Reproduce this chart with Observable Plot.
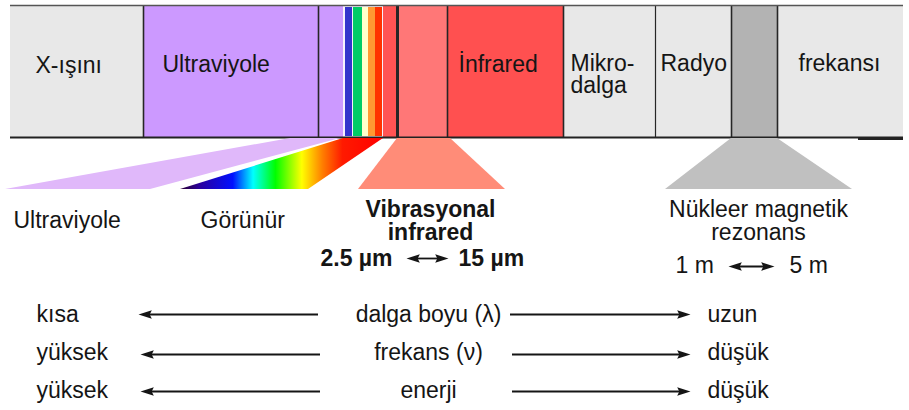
<!DOCTYPE html>
<html><head><meta charset="utf-8">
<script src="https://cdn.jsdelivr.net/npm/d3@7"></script>
<script src="https://cdn.jsdelivr.net/npm/@observablehq/plot@0.6"></script>
<style>html,body{margin:0;padding:0;background:#fff;} svg{display:block}</style>
</head><body><div id="chart"></div>
<script>
// ---- Spectrum bands (diagram units along the spectrum axis) ----
const bandNames  = ["X-ışını","Ultraviyole","UV-yakın","Görünür","IR-yakın","IR-vibrasyonal","İnfrared","Mikrodalga","Radyo","NMR","Radyo frekansı"];
const bandStart  = [10, 143, 318, 343, 383, 397, 447, 563, 655, 731, 777];
const bandEnd    = [143, 318, 343, 383, 397, 447, 563, 655, 731, 777, 903];
const bandColors = ["#e8e8e8","#cc99ff","#cc99ff","#f6f0fc","#ff5454","#ff7777","#ff5050","#e8e8e8","#e8e8e8","#b3b3b3","#e8e8e8"];

// visible colour strips
const visNames  = ["mavi","yeşil","sarı","turuncu","kırmızı"];
const visStart  = [345, 353, 362, 368, 375];
const visEnd    = [352, 362, 368, 375, 382];
const visColors = ["#3333cc","#00cc66","#ffffcc","#ff9933","#ff3300"];

// band dividers
const dividerX     = [143, 318, 397, 447, 563, 655, 731, 777];
const dividerWidth = [1.6, 1.6, 3, 1.6, 1.6, 1.2, 1.6, 1.6];

// band labels (one entry per line)
const bandLabelText = ["X-ışını","Ultraviyole","İnfrared","Mikro-","dalga","Radyo","frekansı"];
const bandLabelX    = [35, 162, 458, 570, 570, 660, 798];
const bandLabelBase = [73, 72, 72, 71, 93, 71, 71];

// fans (band region -> detail region): top at band bottom, base below
const fanNames    = ["Ultraviyole","Görünür","Vibrasyonal infrared","NMR"];
const fanTopX1    = [290, 343, 397, 731];
const fanTopX2    = [340, 383, 450, 777];
const fanBaseX1   = [5, 180, 358, 665];
const fanBaseX2   = [150, 308, 505, 852];
const fanFill     = ["#e0b8fa","url(#spectrumGrad)","#ff8c78","#c0c0c0"];

// visible gradient stops
const gradOffset = [0, 0.1, 0.26, 0.36, 0.47, 0.6, 0.7, 0.8, 1];
const gradColor  = ["#2a0030","#2a00a0","#0010ff","#00ffff","#00ff00","#ffff00","#ff8000","#ff1a00","#ff0000"];

// detail labels (one entry per line)
const detailText   = ["Ultraviyole","Görünür","Vibrasyonal","infrared","Nükleer magnetik","rezonans","2.5 µm","15 µm","1 m","5 m"];
const detailX      = [13, 200, 430, 430, 758, 758, 320, 458, 675, 789];
const detailBase   = [228, 228, 217, 240, 217, 240, 266, 266, 273, 273];
const detailAnchor = ["start","start","middle","middle","middle","middle","start","start","start","start"];
const detailWeight = ["normal","normal","bold","bold","normal","normal","bold","bold","normal","normal"];

// range arrows (double headed)
const rangeX1 = [406, 728];
const rangeX2 = [448, 774];
const rangeY  = [258, 266];

// trend rows
const rowLeft   = ["kısa","yüksek","yüksek"];
const rowMiddle = ["dalga boyu (λ)","frekans (ν)","enerji"];
const rowRight  = ["uzun","düşük","düşük"];
const rowBase   = [322, 360, 398];
const rowArrowY = [314, 354, 391];
const rowLeftTip = [138, 140, 140];
const rowLeftTail = [318, 320, 320];
const rowRightTail = [510, 512, 512];
const rowRightTip = [690, 690, 690];

// ---- build tables ----
const bands = bandNames.map((n,i) => ({name:n, x1:bandStart[i], x2:bandEnd[i], color:bandColors[i]}));
const strips = visNames.map((n,i) => ({name:n, x1:visStart[i], x2:visEnd[i], color:visColors[i]}));
const dividers = dividerX.map((x,i) => ({x, w:dividerWidth[i]}));
const FS = 23, CAP = 16.4;
const bandLabels = bandLabelText.map((t,i) => ({text:t, x:bandLabelX[i], y:bandLabelBase[i]-CAP}));
const fans = fanNames.map((n,i) => [
  {fan:n, y:138, x1:fanTopX1[i], x2:fanTopX2[i], fill:fanFill[i]},
  {fan:n, y:189, x1:fanBaseX1[i], x2:fanBaseX2[i], fill:fanFill[i]}
]);
const details = detailText.map((t,i) => ({text:t, x:detailX[i], y:detailBase[i]-CAP, anchor:detailAnchor[i], weight:detailWeight[i]}));
const rows = rowLeft.map((l,i) => ({left:l, mid:rowMiddle[i], right:rowRight[i], y:rowBase[i]-CAP, ay:rowArrowY[i],
  lt:rowLeftTip[i], ltail:rowLeftTail[i], rtail:rowRightTail[i], rt:rowRightTip[i]}));
const ranges = rangeX1.map((x1,i) => ({x1, x2:rangeX2[i], y:rangeY[i]}));
const heads = [
  ...rows.flatMap(r => [{x:r.lt, y:r.ay, rot:180}, {x:r.rt, y:r.ay, rot:0}]),
  ...ranges.flatMap(r => [{x:r.x1, y:r.y, rot:180}, {x:r.x2, y:r.y, rot:0}])
];

const headSymbol = {draw(ctx, size){ const s = Math.sqrt(size/Math.PI); ctx.moveTo(0,0); ctx.lineTo(-3.1*s,-s); ctx.lineTo(-2.6*s,0); ctx.lineTo(-3.1*s,s); ctx.closePath(); }};
const FONT = "Liberation Sans, Arial, Helvetica, sans-serif";
const INK = "#151515";

const fanMarks = fans.map(f => Plot.areaX(f, {y:"y", x1:"x1", x2:"x2", fill:f[0].fill, curve:"linear"}));
const detailMarks = [];
for (const anchor of ["start","middle"]) for (const weight of ["normal","bold"]) {
  const sub = details.filter(d => d.anchor === anchor && d.weight === weight);
  if (sub.length) detailMarks.push(Plot.text(sub, {x:"x", y:"y", text:"text", textAnchor:anchor, lineAnchor:"top",
    fontSize:FS, fontWeight:weight, fill:INK}));
}

const svg = Plot.plot({
  width: 909, height: 410,
  margin: 0,
  x: {domain:[0,909], range:[0,909], axis:null},
  y: {domain:[0,410], range:[0,410], axis:null},
  color: {type:"identity"},
  style: {background:"#fff", fontFamily: FONT},
  marks: [
    Plot.rect(bands, {x1:"x1", x2:"x2", y1:5, y2:137, fill:"color"}),
    Plot.rect(strips, {x1:"x1", x2:"x2", y1:7, y2:136, fill:"color"}),
    Plot.ruleX(dividers, {x:"x", y1:5, y2:137, stroke:"#262626", strokeWidth:"w"}),
    Plot.ruleY([5], {x1:10, x2:903, stroke:"#555", strokeWidth:1.5}),
    Plot.ruleY([137], {x1:10, x2:903, stroke:"#222", strokeWidth:2}),
    Plot.ruleY([138.5], {x1:858, x2:903, stroke:"#222", strokeWidth:2}),
    Plot.text(bandLabels, {x:"x", y:"y", text:"text", textAnchor:"start", lineAnchor:"top", fontSize:FS, fill:INK}),
    ...fanMarks,
    ...detailMarks,
    Plot.ruleY(ranges, {y:"y", x1:d=>d.x1+6, x2:d=>d.x2-6, stroke:INK, strokeWidth:1.8}),
    Plot.ruleY(rows, {y:"ay", x1:d=>d.lt+6, x2:"ltail", stroke:INK, strokeWidth:1.8}),
    Plot.ruleY(rows, {y:"ay", x1:"rtail", x2:d=>d.rt-6, stroke:INK, strokeWidth:1.8}),
    Plot.dot(heads, {x:"x", y:"y", rotate:"rot", r:4.3, symbol:headSymbol, fill:INK, stroke:"none"}),
    Plot.text(rows, {x:36, y:"y", text:"left", textAnchor:"start", lineAnchor:"top", fontSize:FS, fill:INK}),
    Plot.text(rows, {x:428, y:"y", text:"mid", textAnchor:"middle", lineAnchor:"top", fontSize:FS, fill:INK}),
    Plot.text(rows, {x:707, y:"y", text:"right", textAnchor:"start", lineAnchor:"top", fontSize:FS, fill:INK})
  ]
});

// gradient for the visible-light fan
const xs = svg.scale("x");
const defs = d3.select(svg).insert("defs", ":first-child");
const grad = defs.append("linearGradient").attr("id","spectrumGrad").attr("gradientUnits","userSpaceOnUse")
  .attr("x1", xs.apply(180)).attr("x2", xs.apply(383)).attr("y1",0).attr("y2",0);
gradOffset.forEach((o,i) => grad.append("stop").attr("offset", o).attr("stop-color", gradColor[i]));

document.getElementById("chart").appendChild(svg);
</script>
</body></html>
